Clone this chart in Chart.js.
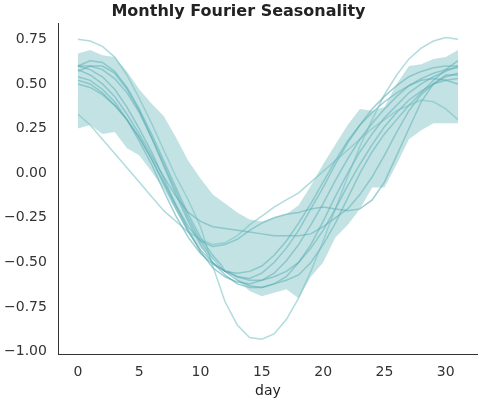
<!DOCTYPE html>
<html lang="en">
<head>
  <meta charset="UTF-8" />
  <title>Monthly Fourier Seasonality</title>
  <script src="https://cdn.jsdelivr.net/npm/chart.js"></script>
  <style>
    body { margin: 0; background: white; }
    #wrap { width: 480px; height: 400px; }
  </style>
</head>
<body>
  <div id="wrap"><canvas id="chart"></canvas></div>
  <script>
    const days = Array.from({ length: 32 }, (_, i) => i);

    const bandUpper = [0.67,0.69,0.66,0.65,0.57,0.47,0.39,0.32,0.20,0.07,-0.03,-0.12,-0.17,-0.22,-0.26,-0.27,-0.25,-0.23,-0.18,-0.07,0.05,0.16,0.27,0.36,0.35,0.37,0.50,0.60,0.61,0.64,0.65,0.69];
    const bandLower = [0.25,0.27,0.22,0.23,0.14,0.10,0.01,-0.09,-0.21,-0.33,-0.42,-0.48,-0.53,-0.60,-0.66,-0.69,-0.67,-0.65,-0.70,-0.58,-0.50,-0.36,-0.29,-0.20,-0.08,-0.08,0.05,0.19,0.24,0.28,0.28,0.28];

    const samples = [
      [0.75,0.74,0.71,0.65,0.55,0.42,0.28,0.13,-0.02,-0.15,-0.30,-0.52,-0.72,-0.85,-0.92,-0.93,-0.90,-0.82,-0.70,-0.55,-0.38,-0.20,-0.02,0.15,0.30,0.44,0.55,0.64,0.70,0.74,0.76,0.75],
      [0.33,0.27,0.19,0.11,0.03,-0.05,-0.13,-0.21,-0.27,-0.33,-0.37,-0.40,-0.39,-0.35,-0.29,-0.24,-0.19,-0.15,-0.11,-0.05,0.01,0.07,0.13,0.19,0.25,0.30,0.35,0.38,0.41,0.40,0.36,0.30],
      [0.58,0.55,0.50,0.43,0.33,0.22,0.10,-0.02,-0.13,-0.22,-0.27,-0.30,-0.31,-0.32,-0.33,-0.34,-0.35,-0.35,-0.35,-0.34,-0.30,-0.25,-0.20,-0.12,-0.02,0.10,0.23,0.35,0.44,0.50,0.54,0.56],
      [0.52,0.50,0.45,0.38,0.30,0.20,0.08,-0.05,-0.18,-0.30,-0.38,-0.41,-0.40,-0.37,-0.32,-0.28,-0.25,-0.23,-0.22,-0.20,-0.19,-0.20,-0.21,-0.20,-0.15,-0.05,0.10,0.25,0.40,0.50,0.55,0.55],
      [0.60,0.63,0.62,0.57,0.48,0.36,0.22,0.07,-0.08,-0.23,-0.36,-0.46,-0.54,-0.58,-0.59,-0.56,-0.50,-0.42,-0.32,-0.20,-0.08,0.05,0.17,0.27,0.36,0.43,0.49,0.54,0.57,0.59,0.60,0.60],
      [0.60,0.60,0.58,0.53,0.45,0.34,0.20,0.05,-0.10,-0.25,-0.38,-0.48,-0.55,-0.60,-0.63,-0.64,-0.62,-0.58,-0.50,-0.40,-0.27,-0.13,0.00,0.12,0.22,0.31,0.38,0.45,0.50,0.54,0.57,0.60],
      [0.54,0.52,0.47,0.40,0.30,0.18,0.05,-0.10,-0.24,-0.36,-0.45,-0.51,-0.55,-0.56,-0.55,-0.52,-0.46,-0.38,-0.28,-0.17,-0.05,0.07,0.18,0.27,0.34,0.40,0.45,0.49,0.52,0.53,0.52,0.50],
      [0.50,0.48,0.44,0.38,0.30,0.20,0.08,-0.06,-0.20,-0.33,-0.43,-0.50,-0.55,-0.58,-0.60,-0.60,-0.58,-0.55,-0.50,-0.42,-0.32,-0.20,-0.07,0.05,0.16,0.26,0.34,0.41,0.46,0.50,0.52,0.53],
      [0.60,0.58,0.54,0.47,0.37,0.25,0.12,-0.03,-0.18,-0.32,-0.44,-0.53,-0.58,-0.61,-0.62,-0.60,-0.56,-0.49,-0.40,-0.29,-0.17,-0.04,0.08,0.19,0.28,0.36,0.43,0.49,0.53,0.56,0.58,0.59],
      [0.57,0.60,0.60,0.56,0.47,0.35,0.20,0.04,-0.12,-0.27,-0.40,-0.50,-0.57,-0.62,-0.64,-0.64,-0.62,-0.60,-0.57,-0.50,-0.40,-0.28,-0.14,0.00,0.12,0.22,0.30,0.38,0.45,0.52,0.58,0.63]
    ];

    const yTicks = [-1.0, -0.75, -0.5, -0.25, 0, 0.25, 0.5, 0.75];
    const xTicks = [0, 5, 10, 15, 20, 25, 30];

    const pts = arr => arr.map((v, i) => ({ x: days[i], y: v }));

    const datasets = [
      { data: pts(bandUpper), borderWidth: 0, pointRadius: 0, fill: false, backgroundColor: 'rgba(120,190,195,0.45)' },
      { data: pts(bandLower), borderWidth: 0, pointRadius: 0, fill: '-1', backgroundColor: 'rgba(120,190,195,0.45)' }
    ];
    samples.forEach((s, i) => {
      datasets.push({
        data: pts(s),
        borderColor: i < 2 ? 'rgba(100,185,190,0.5)' : 'rgba(60,158,165,0.5)',
        borderWidth: 1.5,
        pointRadius: 0,
        fill: false,
        tension: 0
      });
    });

    const font = { family: 'DejaVu Sans', size: 14 };

    new Chart(document.getElementById('chart'), {
      type: 'line',
      data: { datasets },
      options: {
        animation: false,
        responsive: true,
        maintainAspectRatio: false,
        layout: { padding: { right: 3, top: 0 } },
        plugins: {
          legend: { display: false },
          tooltip: { enabled: false },
          title: {
            display: true,
            text: 'Monthly Fourier Seasonality',
            color: '#222',
            font: { family: 'DejaVu Sans', size: 16, weight: 'bold' },
            padding: { top: 2, bottom: 2 }
          }
        },
        scales: {
          x: {
            type: 'linear',
            min: -1.55,
            max: 32.55,
            afterBuildTicks: ax => { ax.ticks = xTicks.map(v => ({ value: v })); },
            ticks: { color: '#333', font, padding: 2 },
            grid: { display: false, drawTicks: true },
            border: { display: true, color: '#333' },
            title: { display: true, text: 'day', color: '#222', font, padding: 0 }
          },
          y: {
            min: -1.015,
            max: 0.84,
            afterBuildTicks: ax => { ax.ticks = yTicks.map(v => ({ value: v })); },
            ticks: {
              color: '#333', font, padding: 4,
              callback: v => (v < 0 ? '\u2212' : '') + Math.abs(v).toFixed(2)
            },
            grid: { display: false },
            border: { display: true, color: '#333' }
          }
        }
      }
    });
  </script>
</body>
</html>
